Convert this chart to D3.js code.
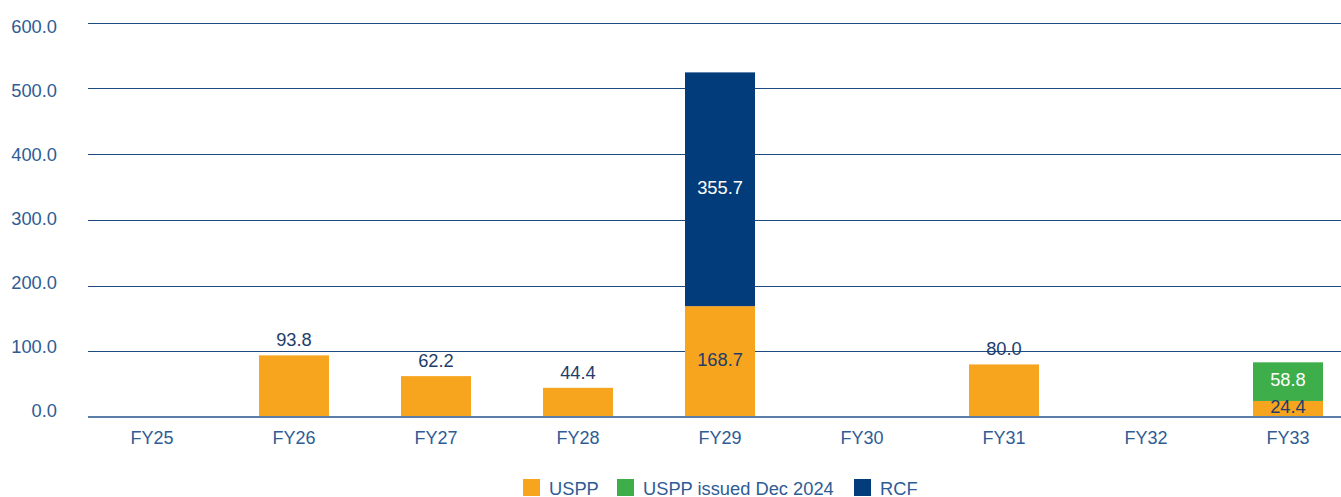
<!DOCTYPE html>
<html>
<head>
<meta charset="utf-8">
<script src="https://cdn.jsdelivr.net/npm/d3@7"></script>
<style>
  body { margin: 0; background: #fff; }
  svg { display: block; font-family: "Liberation Sans", Arial, sans-serif; }
</style>
</head>
<body>
<svg id="chart" width="1341" height="497"></svg>
<script>
const categories = ['FY25', 'FY26', 'FY27', 'FY28', 'FY29', 'FY30', 'FY31', 'FY32', 'FY33'];
const uspp = [0, 93.8, 62.2, 44.4, 168.7, 0, 80.0, 0, 24.4];
const usppDec2024 = [0, 0, 0, 0, 0, 0, 0, 0, 58.8];
const rcf = [0, 0, 0, 0, 355.7, 0, 0, 0, 0];
const yTicks = [0, 100, 200, 300, 400, 500, 600];

const seriesNames = ['USPP', 'USPP issued Dec 2024', 'RCF'];
const colors = ['#F7A51E', '#3DAE4A', '#023C7A'];
const labelColors = ['#1e3d6b', '#ffffff', '#ffffff'];

const svg = d3.select('#chart');
const margin = { left: 88, right: 0, top: 22, bottom: 80 };
const width = 1341, height = 497;

const x = d3.scaleBand()
  .domain(categories)
  .range([81, 1359])
  .padding(0);
const barW = x.bandwidth() * 0.493;

const y = d3.scaleLinear()
  .domain([0, 600])
  .range([417, 22.7]);

// the tick labels sit on their own slightly tighter spacing
const yLabel = d3.scaleLinear()
  .domain([0, 600])
  .range([410.5, 26.7]);

// table for stacking
const table = categories.map((c, i) => ({
  cat: c,
  'USPP': uspp[i],
  'USPP issued Dec 2024': usppDec2024[i],
  'RCF': rcf[i]
}));
const stacked = d3.stack().keys(seriesNames)(table);

// gridlines
svg.append('g')
  .selectAll('line')
  .data(yTicks.filter(d => d > 0))
  .enter()
  .append('line')
  .attr('x1', margin.left)
  .attr('x2', width)
  .attr('y1', d => Math.round(y(d)) + 0.5)
  .attr('y2', d => Math.round(y(d)) + 0.5)
  .attr('stroke', '#1d4a80')
  .attr('stroke-width', 1);

// y tick labels
svg.append('g')
  .selectAll('text')
  .data(yTicks)
  .enter()
  .append('text')
  .attr('x', 57)
  .attr('y', d => yLabel(d) + 6.5)
  .attr('text-anchor', 'end')
  .attr('font-size', 18.3)
  .attr('fill', '#2f5c94')
  .text(d => d3.format('.1f')(d));

// bars
const layers = svg.append('g')
  .selectAll('g')
  .data(stacked)
  .enter()
  .append('g')
  .attr('fill', (d, i) => colors[i]);

layers.selectAll('rect')
  .data(d => d.filter(p => p[1] - p[0] > 0))
  .enter()
  .append('rect')
  .attr('x', p => x(p.data.cat) + (x.bandwidth() - barW) / 2)
  .attr('y', p => y(p[1]))
  .attr('width', barW)
  .attr('height', p => y(p[0]) - y(p[1]));

// baseline
svg.append('line')
  .attr('x1', margin.left)
  .attr('x2', width)
  .attr('y1', y(0))
  .attr('y2', y(0))
  .attr('stroke', '#5a7ea8')
  .attr('stroke-width', 2);

// data labels
const nonZeroCount = categories.map((c, i) => [uspp[i], usppDec2024[i], rcf[i]].filter(v => v > 0).length);
stacked.forEach((layer, si) => {
  layer.forEach((p, ci) => {
    const v = p[1] - p[0];
    if (v <= 0) return;
    const cx = x(p.data.cat) + x.bandwidth() / 2;
    const single = nonZeroCount[ci] === 1;
    svg.append('text')
      .attr('x', cx)
      .attr('y', single ? y(p[1]) - 9 : (y(p[0]) + y(p[1])) / 2 + 4.5)
      .attr('text-anchor', 'middle')
      .attr('font-size', 18.3)
      .attr('fill', single ? '#1e3d6b' : labelColors[si])
      .text(d3.format('.1f')(v));
  });
});

// x axis labels
svg.append('g')
  .selectAll('text')
  .data(categories)
  .enter()
  .append('text')
  .attr('x', d => x(d) + x.bandwidth() / 2)
  .attr('y', 444)
  .attr('text-anchor', 'middle')
  .attr('font-size', 18)
  .attr('fill', '#2f5c94')
  .text(d => d);

// legend
const legendX = [523, 617, 854];
const legend = svg.append('g')
  .selectAll('g')
  .data(seriesNames)
  .enter()
  .append('g')
  .attr('transform', (d, i) => `translate(${legendX[i]},479)`);
legend.append('rect')
  .attr('width', 17)
  .attr('height', 17)
  .attr('fill', (d, i) => colors[i]);
legend.append('text')
  .attr('x', 26)
  .attr('y', 15.5)
  .attr('font-size', 18.3)
  .attr('fill', '#2f5c94')
  .text(d => d);
</script>
</body>
</html>
